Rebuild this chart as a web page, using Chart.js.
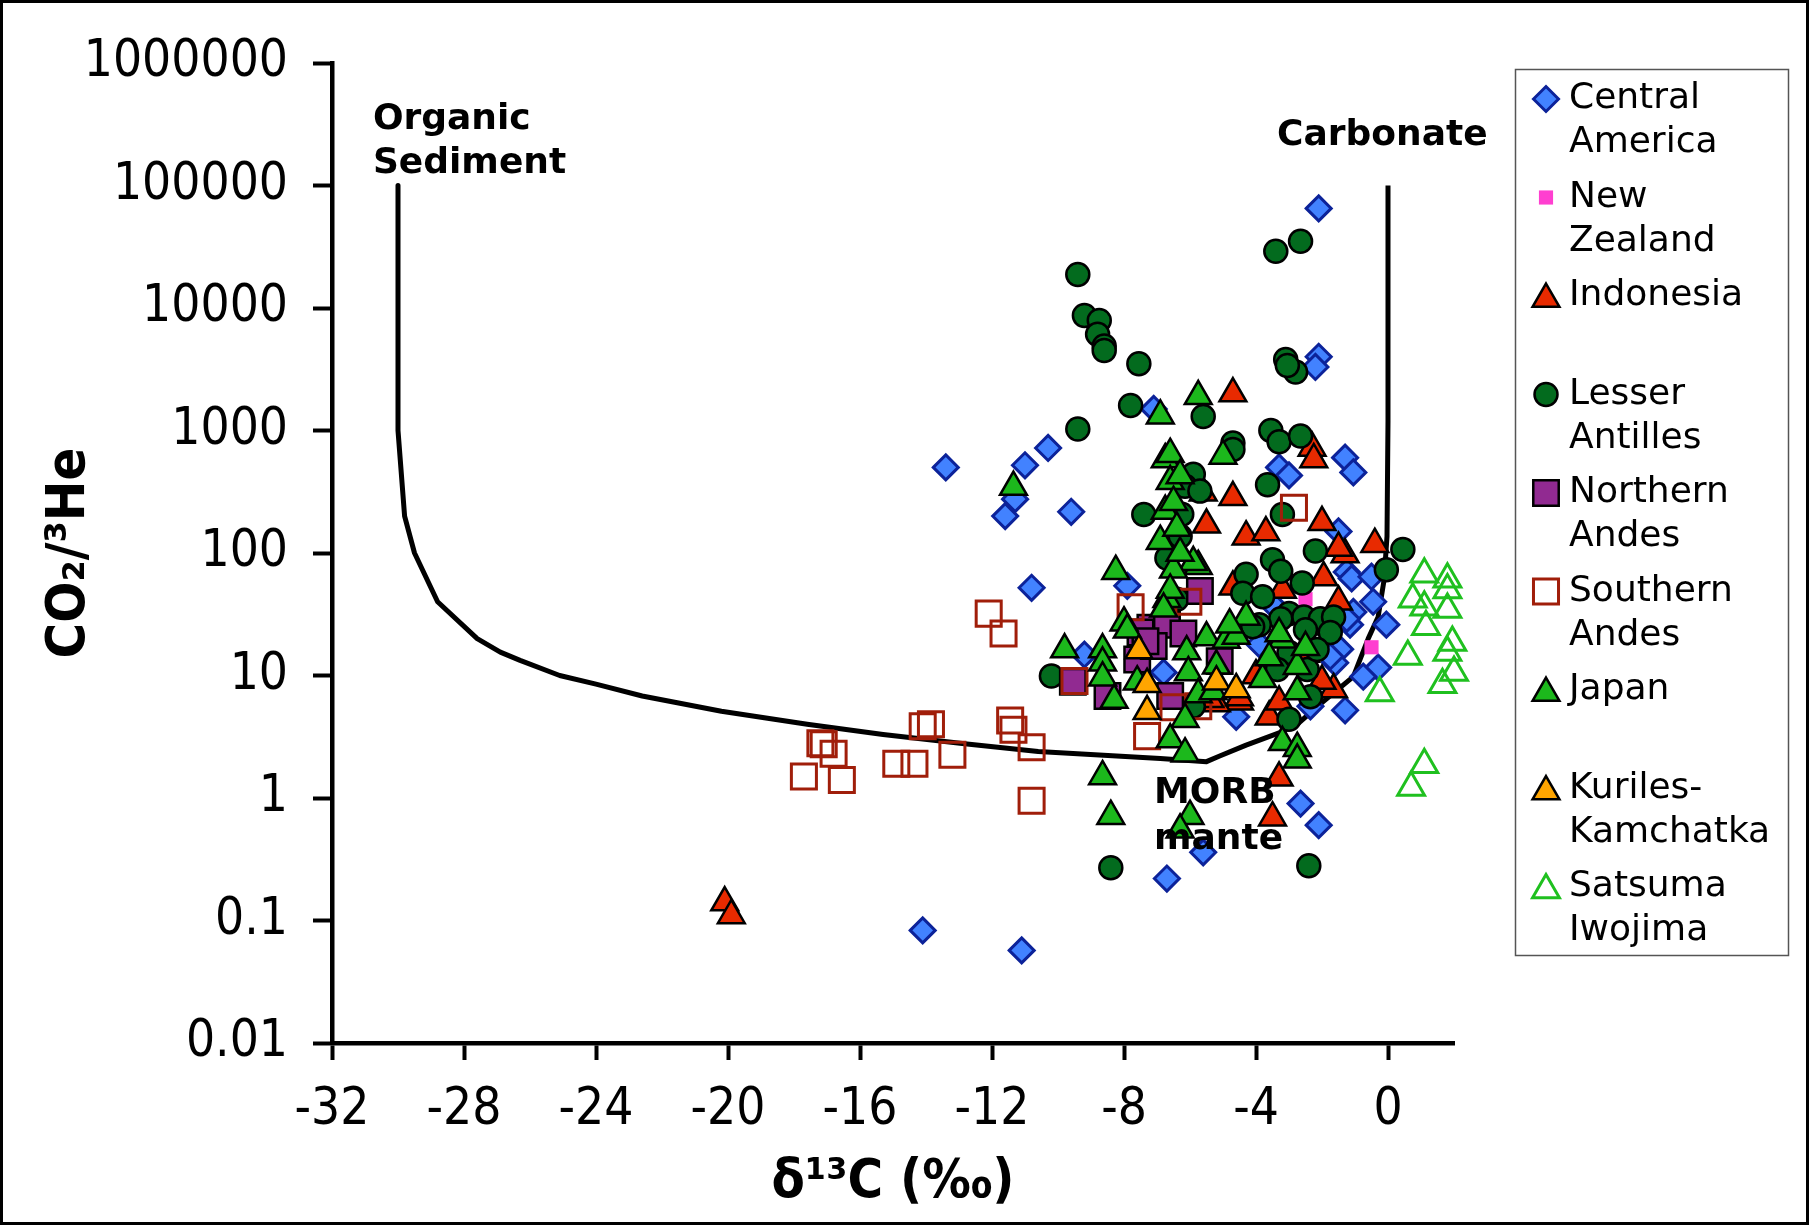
<!DOCTYPE html>
<html>
<head>
<meta charset="utf-8">
<script src="https://cdn.jsdelivr.net/npm/chart.js@4.4.1/dist/chart.umd.min.js"></script>
<style>
  html, body { margin: 0; padding: 0; background: #fff; }
  canvas { display: block; }
</style>
</head>
<body>
<canvas id="c" width="1809" height="1225"></canvas>
<script>
// ticks
const xTicks = [-32, -28, -24, -20, -16, -12, -8, -4, 0];
const yTicks = [0.01, 0.1, 1, 10, 100, 1000, 10000, 100000, 1000000];
const yTickLabels = ["0.01", "0.1", "1", "10", "100", "1000", "10000", "100000", "1000000"];

// mixing curve: organic sediment -> MORB -> carbonate
const curveX = [-30, -30, -29.8, -29.5, -28.8, -27.6, -26.9, -26.3, -25.1, -24.0, -22.6, -20.2, -17.6, -15.3, -12.9, -10.6, -6.9, -5.5, -5.1, -4.3, -3.3, -2.7, -2.0, -1.05, -0.6, -0.3, -0.12, -0.03, 0, 0];
const curveY = [100000, 1000, 200, 100, 40, 20, 15.5, 13.3, 10, 8.5, 6.8, 5.1, 4.0, 3.3, 2.78, 2.4, 2.1, 1.98, 2.2, 2.7, 3.4, 4.1, 6.0, 9.8, 20, 30, 60, 137, 1200, 100000];

// [d13C, CO2/3He]
const centralAmerica = [
  [-2.1, 65000], [-2.1, 4000], [-2.2, 3300], [-7.1, 1500],
  [-13.4, 500], [-11.0, 520], [-10.3, 720], [-11.3, 275], [-11.6, 200], [-9.6, 217],
  [-10.8, 52], [-7.9, 54],
  [-1.3, 600], [-1.05, 455], [-3.3, 500], [-3.0, 430], [-1.5, 150],
  [-1.25, 70], [-1.1, 62], [-0.5, 64], [-0.45, 40], [-1.05, 33], [-0.05, 26],
  [-0.3, 11.6], [-0.75, 9.8], [-1.3, 5.2], [-1.45, 16.4], [-1.6, 12.7], [-1.75, 14.3],
  [-1.15, 26], [-1.25, 29], [-2.35, 5.6], [-4.6, 4.6], [-3.9, 18], [-3.5, 38],
  [-9.2, 14.8], [-6.8, 10.6],
  [-2.65, 0.9], [-2.1, 0.6], [-5.6, 0.36], [-6.7, 0.22], [-11.1, 0.057], [-14.1, 0.083]
];
const newZealand = [[-0.5, 17], [-2.5, 42]];
const indonesia = [
  [-20.1, 0.14], [-19.9, 0.11],
  [-4.7, 2000], [-2.3, 720], [-2.25, 580],
  [-5.6, 310], [-4.7, 285], [-5.5, 170], [-4.3, 136], [-3.7, 147], [-2.0, 178],
  [-1.3, 97], [-1.5, 110], [-0.4, 118], [-1.95, 63], [-3.2, 50], [-1.5, 40], [-4.7, 53],
  [-1.65, 7.7], [-3.3, 1.46], [-3.5, 0.69], [-4.5, 6.1], [-3.6, 4.6], [-5.2, 5.9], [-5.4, 6.4],
  [-4.5, 6.6], [-3.3, 6.1], [-2.5, 15], [-2.2, 25], [-3.0, 12], [-2.0, 9], [-4.0, 10]
];
const lesserAntilles = [
  [-9.4, 18800], [-9.2, 8700], [-8.75, 7900], [-8.8, 6100], [-8.6, 4900], [-8.6, 4500],
  [-7.55, 3500], [-7.8, 1600], [-9.4, 1030], [-3.4, 29000], [-2.65, 35000],
  [-3.1, 3800], [-2.8, 3000], [-3.05, 3400], [-5.6, 1300], [-3.55, 1000], [-3.3, 810],
  [-2.65, 900], [-4.7, 790], [-4.7, 700], [-5.9, 440], [-6.15, 350], [-5.7, 320],
  [-7.4, 206], [-6.25, 207], [-6.3, 137], [-6.7, 91], [-6.4, 42], [-3.65, 360],
  [-3.2, 206], [-2.2, 104], [-3.5, 88], [-3.25, 71], [-2.6, 57], [-4.3, 67], [-4.4, 47],
  [-3.8, 44], [0.45, 107], [-0.05, 73], [-3.0, 32], [-2.55, 30], [-2.05, 29], [-1.65, 30],
  [-3.25, 29], [-3.9, 26], [-2.5, 23.6], [-1.75, 22.4], [-3.0, 15.4], [-3.35, 11.2],
  [-2.35, 6.7], [-3.0, 4.4], [-4.1, 25], [-2.45, 11.2], [-2.15, 16.3], [-10.2, 9.9],
  [-5.9, 5.6], [-8.4, 0.27], [-2.4, 0.28]
];
const northernAndes = [
  [-5.7, 49], [-6.7, 27], [-7.2, 24.5], [-9.55, 8.9], [-6.7, 26], [-7.5, 22.4], [-7.6, 13.5],
  [-8.5, 6.8], [-6.6, 6.8], [-5.1, 13.1], [-7.1, 17.4], [-7.35, 19], [-6.2, 22]
];
const southernAndes = [
  [-12.1, 32], [-11.65, 22], [-17.2, 2.8], [-17.1, 2.75], [-16.8, 2.3], [-17.7, 1.5],
  [-16.55, 1.4], [-14.1, 3.85], [-13.85, 4.0], [-14.9, 1.9], [-14.35, 1.9], [-13.2, 2.25],
  [-11.45, 4.3], [-11.35, 3.6], [-10.8, 2.6], [-10.8, 0.95], [-7.8, 36], [-6.05, 40],
  [-2.85, 234], [-7.3, 3.2], [-6.5, 5.5], [-5.75, 5.6], [-9.5, 9.0]
];
const japan = [
  [-5.75, 1900], [-6.9, 1320], [-11.35, 345], [-6.75, 580], [-6.6, 640], [-6.6, 385],
  [-6.75, 220], [-6.9, 125], [-6.5, 260], [-5.75, 78], [-5.9, 84], [-6.5, 73], [-8.25, 71],
  [-6.7, 42], [-8.0, 27], [-5.0, 620], [-9.8, 16.3], [-8.65, 16.3], [-8.65, 12.7],
  [-8.65, 9.6], [-8.3, 6.3], [-7.6, 8.9], [-6.1, 15.7], [-5.5, 20.4], [-6.05, 10.6],
  [-5.75, 7.0], [-6.15, 4.4], [-6.6, 3.0], [-6.15, 2.3], [-8.65, 1.5], [-8.4, 0.71],
  [-6.0, 0.71], [-6.3, 0.55], [-5.3, 7.4], [-4.9, 19.5], [-7.9, 23.6], [-4.6, 21],
  [-3.2, 19.6], [-3.8, 9.3], [-2.75, 11.9], [-2.75, 7.4], [-3.2, 2.85], [-2.75, 2.55],
  [-2.75, 2.05], [-6.4, 160], [-6.3, 100], [-6.6, 50], [-4.3, 30], [-4.8, 26], [-3.3, 22],
  [-2.5, 17], [-6.8, 35], [-6.3, 430], [-5.2, 12], [-3.6, 14]
];
const kurilesKamchatka = [[-7.55, 16], [-7.3, 8.5], [-7.3, 5.1], [-5.2, 8.9], [-4.6, 7.7]];
const satsumaIwojima = [
  [1.1, 67], [1.8, 61], [0.75, 42], [1.8, 50], [1.1, 36], [1.8, 34.6], [1.15, 25],
  [1.95, 18.6], [1.8, 15.4], [2.0, 10.6], [0.6, 14.3], [1.65, 8.4], [-0.25, 7.2],
  [1.1, 1.87], [0.7, 1.22]
];

const seriesNames = ["Central America", "New Zealand", "Indonesia", "Lesser Antilles", "Northern Andes",
  "Southern Andes", "Japan", "Kuriles-Kamchatka", "Satsuma Iwojima"];
const legendText = [["Central", "America"], ["New", "Zealand"], ["Indonesia"], ["Lesser", "Antilles"],
  ["Northern", "Andes"], ["Southern", "Andes"], ["Japan"], ["Kuriles-", "Kamchatka"], ["Satsuma", "Iwojima"]];
const seriesData = [centralAmerica, newZealand, indonesia, lesserAntilles, northernAndes,
  southernAndes, japan, kurilesKamchatka, satsumaIwojima];

// marker looks
const styles = [
  { shape: "rectRot", r: 12.5, fill: "#4282ff", line: "#0c2299", w: 3 },
  { shape: "rect", r: 10, fill: "#ff3fd0", line: "#ff3fd0", w: 0 },
  { shape: "triangle", r: 15.5, fill: "#e82a00", line: "#000", w: 2.5 },
  { shape: "circle", r: 11.5, fill: "#036b1e", line: "#000", w: 2.5 },
  { shape: "rect", r: 18, fill: "#912a91", line: "#000", w: 2.5 },
  { shape: "rect", r: 17.7, fill: "rgba(0,0,0,0)", line: "#a01e0a", w: 3 },
  { shape: "triangle", r: 15.5, fill: "#1cb81c", line: "#000", w: 2.5 },
  { shape: "triangle", r: 15.5, fill: "#ffa500", line: "#000", w: 2.5 },
  { shape: "triangle", r: 15.5, fill: "rgba(0,0,0,0)", line: "#1fc01f", w: 3 }
];

// text notes in data coords
const notes = [
  { text: "Organic", x: -30.76, y: 343000 },
  { text: "Sediment", x: -30.76, y: 150000 },
  { text: "Carbonate", x: -3.36, y: 253000 },
  { text: "MORB", x: -7.09, y: 1.08 },
  { text: "mante", x: -7.09, y: 0.46 }
];

const tickFont = { family: "'DejaVu Sans Condensed', 'DejaVu Sans'", size: 51 };
const titleFont = { family: "'DejaVu Sans Condensed', 'DejaVu Sans'", size: 54, weight: "bold" };

let datasets = seriesData.map((arr, i) => {
  const s = styles[i];
  return {
    label: seriesNames[i],
    data: arr.map(p => ({ x: p[0], y: p[1] })),
    showLine: false,
    pointStyle: s.shape,
    pointRadius: s.r,
    pointHoverRadius: s.r,
    pointBackgroundColor: s.fill,
    pointBorderColor: s.line,
    pointBorderWidth: s.w,
    clip: false,
    order: 9 - i
  };
});
datasets.push({
  label: "curve",
  data: curveX.map((x, i) => ({ x: x, y: curveY[i] })),
  showLine: true,
  borderColor: "#000",
  borderWidth: 5,
  borderJoinStyle: "round",
  pointRadius: 0,
  tension: 0,
  fill: false,
  order: 100
});

const notesPlugin = {
  id: "notes",
  afterDatasetsDraw(chart) {
    const ctx = chart.ctx;
    ctx.save();
    ctx.font = "bold 36px 'DejaVu Sans'";
    ctx.fillStyle = "#000";
    ctx.textAlign = "left";
    ctx.textBaseline = "middle";
    notes.forEach(n => {
      ctx.fillText(n.text, chart.scales.x.getPixelForValue(n.x), chart.scales.y.getPixelForValue(n.y));
    });
    ctx.restore();
  }
};

const legendPlugin = {
  id: "boxLegend",
  afterDraw(chart) {
    const ctx = chart.ctx;
    ctx.save();
    ctx.lineWidth = 1.5;
    ctx.strokeStyle = "#555";
    ctx.strokeRect(1515.5, 69.5, 273, 886);
    ctx.font = "36px 'DejaVu Sans'";
    ctx.textAlign = "left";
    ctx.textBaseline = "middle";
    styles.forEach((s, i) => {
      const y = 99 + i * 98.5;
      ctx.fillStyle = s.fill;
      ctx.strokeStyle = s.line;
      ctx.lineWidth = s.w;
      Chart.helpers.drawPoint(ctx, { pointStyle: s.shape, radius: s.r, borderWidth: s.w, rotation: 0 }, 1546, s.shape === "triangle" ? y + 3 : y);
      ctx.fillStyle = "#000";
      legendText[i].forEach((t, j) => ctx.fillText(t, 1569, y + j * 44));
    });
    // outer frame
    ctx.lineWidth = 3;
    ctx.strokeStyle = "#000";
    ctx.strokeRect(1.5, 1.5, 1806, 1222);
    ctx.restore();
  }
};

new Chart(document.getElementById("c"), {
  type: "scatter",
  data: { datasets: datasets },
  options: {
    responsive: false,
    animation: false,
    events: [],
    layout: { padding: { left: 0, top: 63, right: 355, bottom: 0 } },
    plugins: { legend: { display: false }, tooltip: { enabled: false } },
    scales: {
      x: {
        type: "linear",
        min: -32,
        max: 2,
        afterBuildTicks: s => { s.ticks = xTicks.map(v => ({ value: v })); },
        afterFit: s => { s.height = 182; },
        ticks: { color: "#000", font: tickFont, padding: 20, maxRotation: 0, callback: v => String(v) },
        grid: { drawOnChartArea: false, drawTicks: true, tickLength: 17, tickWidth: 4, tickColor: "#000", color: "#000" },
        border: { display: true, color: "#000", width: 4.5 },
        title: { display: true, text: "δ¹³C (‰)", color: "#000", font: titleFont, padding: { top: 0, bottom: 10 } }
      },
      y: {
        type: "logarithmic",
        min: 0.01,
        max: 1000000,
        afterBuildTicks: s => { s.ticks = yTicks.map(v => ({ value: v })); },
        afterFit: s => { s.width = 332; },
        ticks: { color: "#000", font: tickFont, padding: 25, callback: (v, i) => yTickLabels[i] },
        grid: { drawOnChartArea: false, drawTicks: true, tickLength: 19, tickWidth: 4, tickColor: "#000", color: "#000" },
        border: { display: true, color: "#000", width: 4.5 },
        title: { display: true, text: "CO₂/³He", color: "#000", font: titleFont, padding: { top: 38, bottom: 0 } }
      }
    }
  },
  plugins: [notesPlugin, legendPlugin]
});
</script>
</body>
</html>
